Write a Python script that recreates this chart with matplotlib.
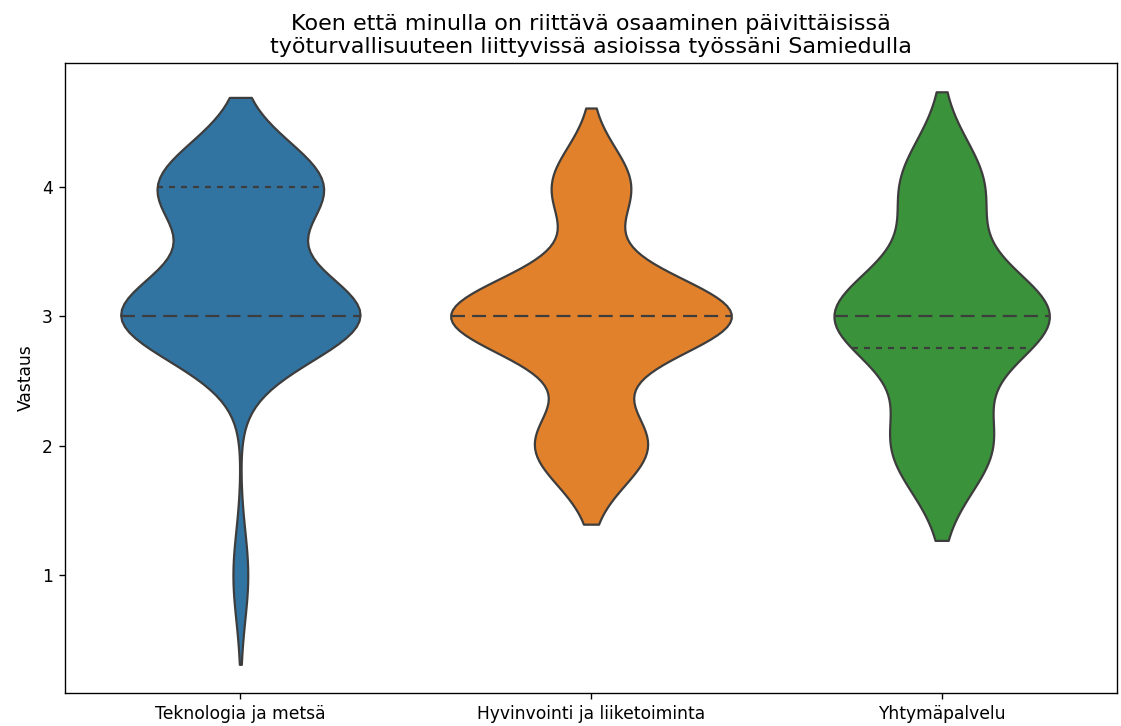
import matplotlib
matplotlib.use("Agg")
import matplotlib.pyplot as plt
import seaborn as sns
import pandas as pd
import numpy as np

# Response counts per unit (Likert answers)
units = ["Teknologia ja metsä", "Hyvinvointi ja liiketoiminta", "Yhtymäpalvelu"]
answers = [1, 2, 3, 4, 5]
counts_teknologia = [1, 0, 16, 11, 0]
counts_hyvinvointi = [0, 10, 25, 7, 0]
counts_yhtyma = [0, 6, 13, 5, 0]

title = ("Koen että minulla on riittävä osaaminen päivittäisissä\n"
         "työturvallisuuteen liittyvissä asioissa työssäni Samiedulla")

rows = []
for unit, counts in zip(units, [counts_teknologia, counts_hyvinvointi, counts_yhtyma]):
    for a, c in zip(answers, counts):
        rows += [(unit, a)] * c
df = pd.DataFrame(rows, columns=["Yksikkö", "Vastaus"])

DPI = 123
fig, ax = plt.subplots(figsize=(1121 / DPI, 726 / DPI), dpi=DPI)
fig.subplots_adjust(left=0.058, right=0.9964, top=0.913, bottom=0.0455)
sns.violinplot(data=df, x="Yksikkö", y="Vastaus", order=units,
               inner="quartile", color="C0", saturation=0.75,
               linewidth=1.3, linecolor="#3d3d3d", ax=ax)

# colour each violin like the category palette
pal = sns.color_palette("tab10", 3, desat=0.75)
polys = [c for c in ax.collections if isinstance(c, matplotlib.collections.PolyCollection)]
for poly, col in zip(polys, pal):
    poly.set_facecolor(col)

# inner quartile line styles: median long dashes, quartiles dotted
lines = list(ax.lines)
for k in range(0, len(lines), 3):
    group = lines[k:k + 3]
    med = group[1]
    for j, line in enumerate(group):
        line.set_color("#3d3d3d")
        line.set_linewidth(1.3)
        if j == 1:
            line.set_dashes((6.3, 3.2))
        else:
            line.set_dashes((2.7, 2.7))
            if np.allclose(line.get_ydata(), med.get_ydata()):
                line.set_visible(False)

ax.set_xlabel("")
ax.set_ylabel("Vastaus")
ax.set_title(title, fontsize=13)
fig.savefig("out.png", dpi=DPI)
